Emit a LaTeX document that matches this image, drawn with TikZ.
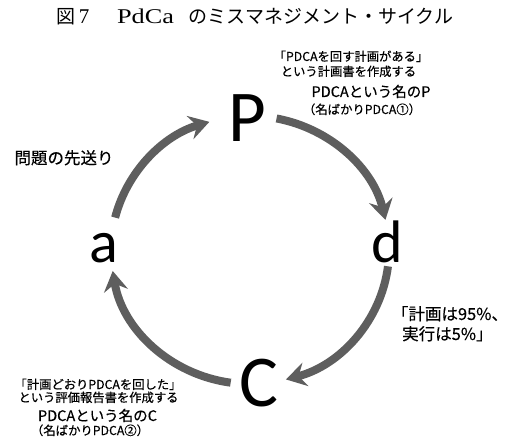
\documentclass[tikz,border=0pt]{standalone}
\usepackage{fontspec}
\usetikzlibrary{arrows.meta,calc}
\newfontfamily\jp{Noto Sans CJK JP}
\newfontfamily\jpb[FakeBold=0.35]{Noto Sans CJK JP}
\newfontfamily\lat{Carlito}
\newfontfamily\ser{Liberation Serif}
\newcommand{\hwb}[1]{{\addfontfeature{RawFeature=+halt}#1}}
\definecolor{arrowgray}{HTML}{5E5E5E}
\tikzset{
  cyc/.style={draw=arrowgray, line width=8pt, -{Stealth[length=20pt,width=24pt,inset=7pt]}},
  bigletter/.style={anchor=base, inner sep=0pt, font=\lat\fontsize{73}{73}\selectfont},
  smallletter/.style={anchor=base, inner sep=0pt, font=\lat\fontsize{60}{60}\selectfont},
  note/.style={anchor=base, inner sep=0pt, font=\jpb\fontsize{12.3}{14}\selectfont},
  notebig/.style={anchor=base, inner sep=0pt, font=\jpb\fontsize{14.5}{16}\selectfont},
  notemid/.style={anchor=base, inner sep=0pt, font=\jpb\fontsize{16.5}{19}\selectfont},
  ttl/.style={anchor=base, inner sep=0pt, font=\jp\fontsize{19}{21}\selectfont},
}
\begin{document}
\begin{tikzpicture}[x=1pt,y=1pt]
\fill[white] (0,0) rectangle (510,447);
\useasboundingbox (0,0) rectangle (510,447);
% title
\node[ttl] (t1) at (66,423) {図};
\node[ttl, font=\ser\fontsize{21}{21}\selectfont] (t2) at (84,423) {7};
\node[ttl] (t3) at (145.5,423) {\scalebox{1.25}[1]{\ser\fontsize{21}{21}\selectfont PdCa}};
\node[ttl] (t4) at (321,423) {のミスマネジメント・サイクル};
% letters
\coordinate (O) at (250,197);
\node[bigletter] (P) at (247,305) {P};
\node[smallletter] (d) at (387.5,185) {d};
\node[bigletter] (C) at (258.5,41) {C};
\node[smallletter] (a) at (104,185) {a};
% arrows
\draw[cyc] ([shift={(166:139 and 134)}]O) arc[start angle=166,end angle=107,x radius=139,y radius=134];
\draw[cyc] ([shift={(79:139 and 134)}]O) arc[start angle=79,end angle=13,x radius=139,y radius=134];
\draw[cyc] ([shift={(-7:139 and 134)}]O) arc[start angle=-7,end angle=-75,x radius=139,y radius=134];
\draw[cyc] ([shift={(-98:139 and 134)}]O) arc[start angle=-98,end angle=-171,x radius=139,y radius=134];
% top-right notes
\node[note] (n1) at (351,386) {\hwb{「}PDCAを回す計画がある\hwb{」}};
\node[note] (n2) at (348.5,371) {という計画書を作成する};
\node[notebig] (n3) at (371,350) {PDCAという名のP};
\node[note] (n4) at (362,333) {（名ばかりPDCA①）};
% left note
\node[notemid] (q) at (64,283) {問題の先送り};
% right note
\node[notemid, anchor=base west] (r1) at (400,127) {\hwb{「}計画は95\%\hwb{、}};
\node[notemid, anchor=base west] (r2) at (402,107) {実行は5\%\hwb{」}};
% bottom-left notes
\node[note] (b1) at (98,58) {\hwb{「}計画どおりPDCAを回した\hwb{」}};
\node[note] (b2) at (98.5,45) {という評価報告書を作成する};
\node[notebig] (b3) at (97.5,26) {PDCAという名のC};
\node[note] (b4) at (90,12) {（名ばかりPDCA②）};
\end{tikzpicture}
\end{document}
